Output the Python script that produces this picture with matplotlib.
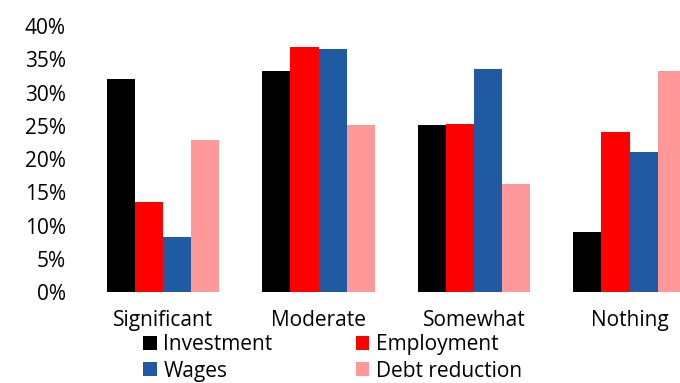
import matplotlib.pyplot as plt
import numpy as np

plt.rcParams['font.family'] = ['Open Sans', 'DejaVu Sans']

categories = ['Significant', 'Moderate', 'Somewhat', 'Nothing']
series = ['Investment', 'Employment', 'Wages', 'Debt reduction']
investment = [32.1, 33.3, 25.1, 9.0]
employment = [13.5, 36.8, 25.3, 24.1]
wages = [8.3, 36.6, 33.6, 21.1]
debt_reduction = [22.8, 25.1, 16.3, 33.3]
yticks = [0, 5, 10, 15, 20, 25, 30, 35, 40]

colors = ['#000000', '#ff0000', '#1f5aa3', '#ff9999']
values = [investment, employment, wages, debt_reduction]

fig = plt.figure(figsize=(6.8, 3.83), dpi=100)
ax = fig.add_axes([0.1253, 0.2376, 0.915, 0.6945])

x = np.arange(len(categories))
w = 0.181
bars = []
for i, (name, vals) in enumerate(zip(series, values)):
    bars.append(ax.bar(x + (i - 1.5) * w, vals, w, color=colors[i], label=name))

ax.set_xlim(-0.5, 3.5)
ax.set_ylim(0, 40)
ax.set_yticks(yticks)
ax.set_yticklabels(['%d%%' % t for t in yticks], fontsize=15)
ax.set_xticks(x)
ax.set_xticklabels(categories, fontsize=15)
for s in ax.spines.values():
    s.set_visible(False)
ax.tick_params(axis='both', length=0)
ax.tick_params(axis='y', pad=14)
ax.tick_params(axis='x', pad=13)

# legend fills by column, so order for rows: Investment/Employment, Wages/Debt
order = [0, 2, 1, 3]
fig.legend([bars[i] for i in order], [series[i] for i in order],
           loc='upper left', bbox_to_anchor=(0.211, 0.127), ncol=2, frameon=False,
           fontsize=15, handlelength=0.65, handleheight=0.65, handletextpad=0.3,
           columnspacing=4.0, labelspacing=0.25, borderpad=0, borderaxespad=0)

fig.savefig('out.png', dpi=100)
